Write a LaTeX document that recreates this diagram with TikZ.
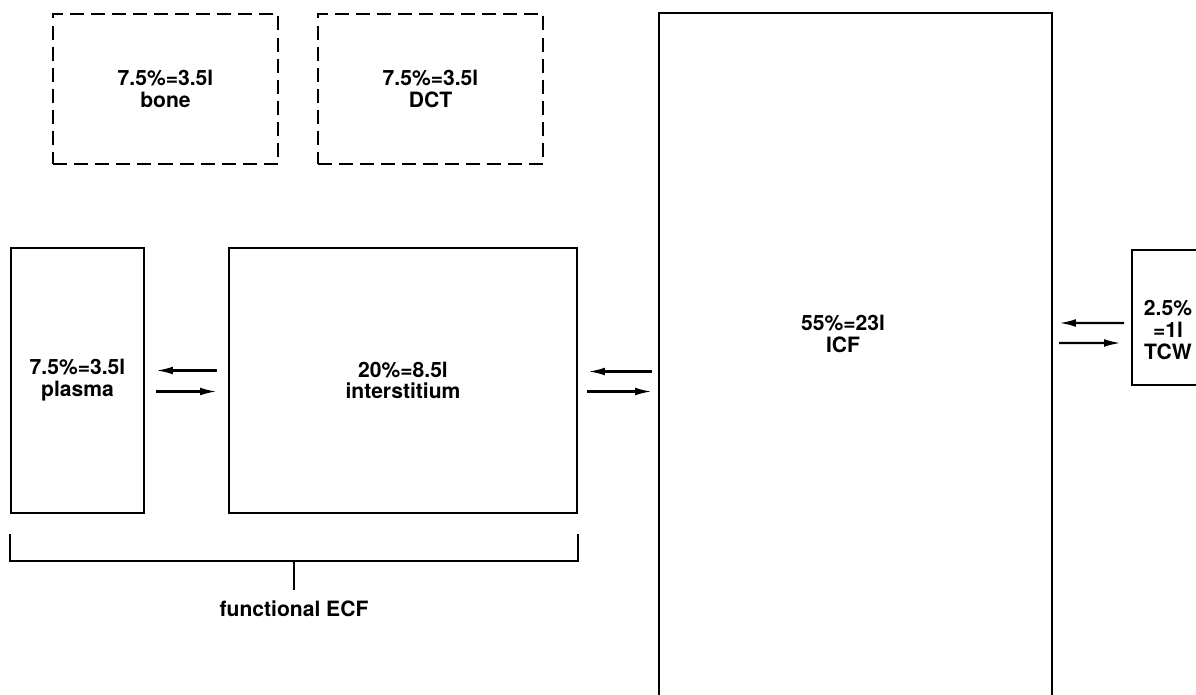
\documentclass[tikz,border=0pt]{standalone}
\usepackage{fontspec}
\setmainfont{TeX Gyre Heros}
\usetikzlibrary{arrows.meta,positioning,calc}
\tikzset{comp/.style={draw,line width=1.4pt,inner sep=0pt,align=center,font=\fontsize{15}{15.5}\selectfont\bfseries},hidden/.style={comp,dash pattern=on 10pt off 5pt,minimum width=5.625cm,minimum height=3.75cm},txt/.style={align=center,font=\fontsize{15}{15.5}\selectfont\bfseries},flow/.style={-{Latex[length=12pt,width=5.5pt]},line width=1.6pt}}
\begin{document}
\begin{tikzpicture}[x=0.025cm,y=-0.025cm]
\useasboundingbox (0,0) rectangle (1196,695);
% compartments
\node[hidden](bone)at(165.5,89){7.5\%=3.5l\\bone};
\node[hidden](dct)at(430.5,89){7.5\%=3.5l\\DCT};
\node[comp,minimum width=3.325cm,minimum height=6.625cm](plasma)at(77.5,380.5){7.5\%=3.5l\\plasma};
\node[comp,minimum width=8.7cm,minimum height=6.625cm](inter)at(403,380.5){20\%=8.5l\\interstitium};
\node[comp,minimum width=9.825cm,minimum height=18.375cm](icf)at(855.5,380.5){};
\node[txt](icftxt)at(843,334){55\%=23l\\ICF};
\node[comp,minimum width=1.8cm,minimum height=3.375cm](tcw)at(1168,317.5){};
\node[txt](tcwtxt)at(1168,330){2.5\%\\=1l\\TCW};
% exchange arrows
\draw[flow]([shift={(-11,-10)}]inter.west)--([shift={(11,-10)}]plasma.east);
\draw[flow]([shift={(11,11)}]plasma.east)--([shift={(-11,11)}]inter.west);
\draw[flow]([shift={(-6,-9)}]icf.west)--([shift={(10,-9)}]inter.east);
\draw[flow]([shift={(9,11)}]inter.east)--([shift={(-6,11)}]icf.west);
\draw[flow]([shift={(-7,5.5)}]tcw.west)--([shift={(6,-57.5)}]icf.east);
\draw[flow]([shift={(6,-37.5)}]icf.east)--([shift={(-10,25.5)}]tcw.west);
% bracket
\draw[line width=1.4pt]([shift={(0,20)}]plasma.south west)--([shift={(0,47)}]plasma.south west)coordinate(brl)--([shift={(0,47)}]inter.south east)coordinate(brr)--([shift={(0,20)}]inter.south east);
\draw[line width=1.4pt]($(brl)!.5!(brr)$)--++(0,29)coordinate(tick);
\node[txt,below=1.5mm of tick](ecf){functional ECF};
\end{tikzpicture}
\end{document}
